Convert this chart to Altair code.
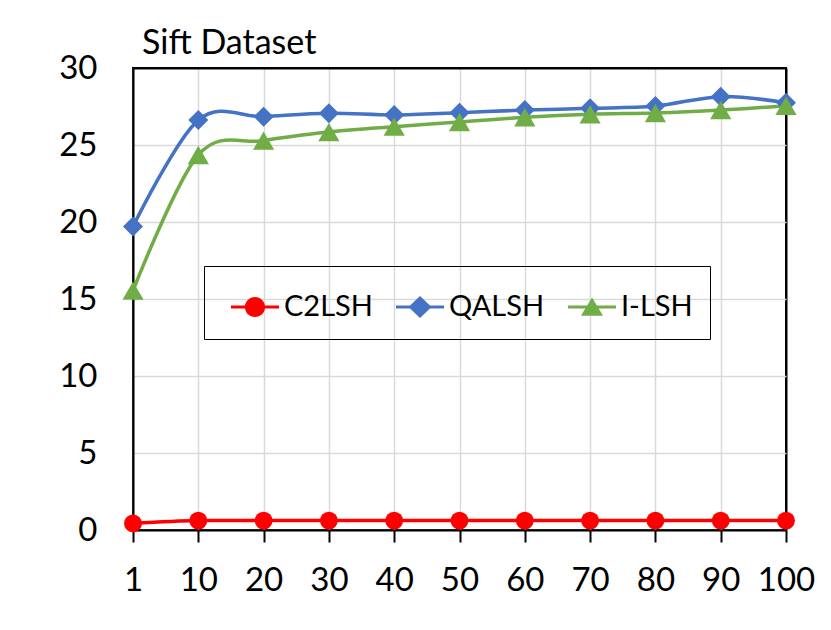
import altair as alt
import pandas as pd

x_labels = ["1", "10", "20", "30", "40", "50", "60", "70", "80", "90", "100"]
series_names = ["C2LSH", "QALSH", "I-LSH"]
c2lsh = [0.43, 0.61, 0.61, 0.61, 0.61, 0.61, 0.61, 0.61, 0.61, 0.61, 0.61]
qalsh = [19.7, 26.62, 26.84, 27.06, 26.95, 27.1, 27.27, 27.38, 27.53, 28.14, 27.75]
ilsh = [15.54, 24.35, 25.28, 25.84, 26.19, 26.49, 26.8, 27.0, 27.08, 27.27, 27.55]
colors = ["#FF0000", "#4472C4", "#70AD47"]
marker_shapes = ["circle", "diamond", "triangle-up"]
marker_sizes = [320, 400, 450]
y_ticks = [0, 5, 10, 15, 20, 25, 30]

rows = []
for name, vals in zip(series_names, [c2lsh, qalsh, ilsh]):
    for i, (x, v) in enumerate(zip(x_labels, vals)):
        rows.append({"x": x, "value": v, "series": name, "order": i})
df = pd.DataFrame(rows)

FONT = "Lato"

# legend symbols: line segment + marker, in unit coordinates
circle_sym = ("M-1,-0.065H1V0.065H-1Z "
              "M-0.42,0A0.42,0.42 0 1,1 0.42,0A0.42,0.42 0 1,1 -0.42,0Z")
diamond_sym = "M-1,-0.065H1V0.065H-1Z M0,-0.46L0.48,0L0,0.46L-0.48,0Z"
tri_sym = "M-1,-0.065H1V0.065H-1Z M0,-0.4L0.46,0.36L-0.46,0.36Z"

color_scale = alt.Scale(domain=series_names, range=colors)

legend = alt.Legend(
    title=None,
    orient="none",
    legendX=71,
    legendY=198,
    direction="horizontal",
    strokeColor="black",
    padding=17,
    labelFont=FONT,
    labelFontSize=29,
    labelColor="black",
    labelOffset=5,
    columnPadding=13,
    symbolSize=2304,
    symbolOffset=10,
    symbolStrokeWidth=0,
    symbolOpacity=1,
)

x_enc = alt.X(
    "x:O",
    sort=x_labels,
    scale=alt.Scale(padding=0),
    axis=alt.Axis(
        title=None,
        labelAngle=0,
        labelFont=FONT,
        labelFontSize=33,
        labelColor="black",
        labelPadding=22,
        tickSize=12,
        tickWidth=2,
        tickColor="black",
        domainColor="black",
        domainWidth=2,
        grid=True,
        gridColor=alt.condition("datum.value === '100'", alt.value("black"), alt.value("#D9D9D9")),
        gridWidth=alt.condition("datum.value === '100'", alt.value(2), alt.value(1.5)),
    ),
)
y_enc = alt.Y(
    "value:Q",
    scale=alt.Scale(domain=[0, 30], nice=False, zero=True),
    axis=alt.Axis(
        title=None,
        values=y_ticks,
        labelFont=FONT,
        labelFontSize=33,
        labelColor="black",
        labelPadding=36,
        ticks=False,
        domainColor="black",
        domainWidth=2,
        grid=True,
        gridColor=alt.condition("datum.value === 30", alt.value("black"), alt.value("#D9D9D9")),
        gridWidth=alt.condition("datum.value === 30", alt.value(2), alt.value(1.5)),
    ),
)

base = alt.Chart(df)

# tiny hidden layer that only carries the legend (line + marker symbols)
legend_layer = base.mark_point(filled=True, opacity=1, size=1).encode(
    x=x_enc,
    y=y_enc,
    color=alt.Color("series:N", scale=color_scale, legend=legend),
    shape=alt.Shape(
        "series:N",
        scale=alt.Scale(domain=series_names, range=[circle_sym, diamond_sym, tri_sym]),
        legend=legend,
    ),
)

lines = base.mark_line(interpolate="cardinal", strokeWidth=3.5).encode(
    x=x_enc,
    y=y_enc,
    color=alt.Color("series:N", scale=color_scale, legend=None),
    order="order:Q",
)

point_layers = []
for name, shp, sz in zip(series_names, marker_shapes, marker_sizes):
    point_layers.append(
        base.transform_filter(alt.datum.series == name)
        .mark_point(filled=True, opacity=1, size=sz, shape=shp)
        .encode(
            x=x_enc,
            y=y_enc,
            color=alt.Color("series:N", scale=color_scale, legend=None),
        )
    )

chart = (
    alt.layer(legend_layer, lines, *point_layers)
    .properties(
        width=653,
        height=462,
        background="white",
        autosize=alt.AutoSizeParams(type="none"),
        padding={"left": 125, "top": 60, "right": 37, "bottom": 92},
        title=alt.TitleParams(
            "Sift Dataset",
            anchor="start",
            frame="group",
            font=FONT,
            fontSize=34,
            fontWeight="normal",
            color="black",
            baseline="alphabetic",
            dx=9,
            offset=-36,
        ),
    )
    .configure_view(stroke="black", strokeWidth=2)
)

chart.save("out.html", embed_options={"renderer": "svg", "actions": False})
